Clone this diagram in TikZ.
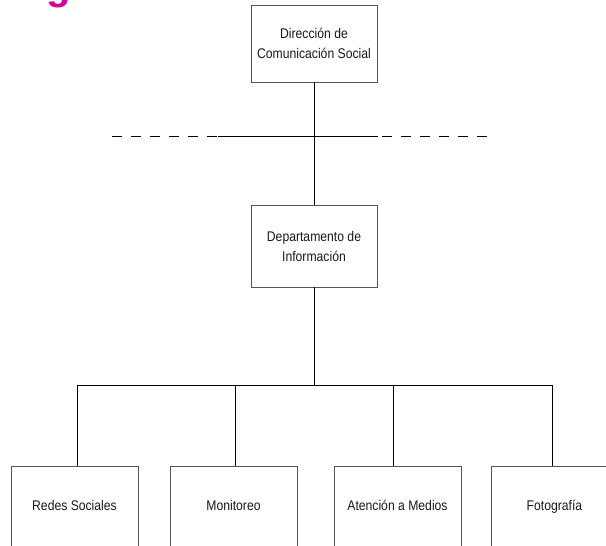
\documentclass[tikz,border=0pt]{standalone}
\usepackage{fontspec}
\setmainfont{Liberation Sans}[FakeStretch=0.87]
\newfontfamily\titlefont{Liberation Sans}
\definecolor{titlemagenta}{RGB}{214,0,150}
\definecolor{boxline}{RGB}{85,85,85}
\definecolor{boxtext}{RGB}{25,25,25}
\begin{document}
\begin{tikzpicture}[x=1pt,y=-1pt,
  orgbox/.style={draw=boxline, line width=0.9pt, fill=white,
    minimum width=126pt, minimum height=77pt, inner sep=0pt,
    align=center, text=boxtext, font=\fontsize{14}{20}\selectfont},
  unitbox/.style={orgbox, minimum width=127pt, minimum height=82pt,
    text height=10.5pt, text depth=3.5pt},
  link/.style={draw=black, line width=0.8pt},
  dashlink/.style={link, dash pattern=on 10pt off 9pt}]
\useasboundingbox (0,0) rectangle (606,546);
\clip (0,0) rectangle (606,546);

% page title, mostly above the visible area
\node[anchor=base east, inner sep=0pt, text=titlemagenta,
  font=\titlefont\bfseries\fontsize{40}{40}\selectfont] (title) at (167,-1) {Organigrama};

% boxes
\node[orgbox] (dir) at (314,43.5) {Dirección de\\Comunicación Social};
\node[orgbox, minimum height=82pt] (dep) at (314,246) {Departamento de\\Información};
\node[unitbox] (redes) at (74.5,507) {Redes Sociales};
\node[unitbox] (moni)  at (233.5,507) {Monitoreo};
\node[unitbox] (aten)  at (397.5,507) {Atención a Medios};
\node[unitbox] (foto)  at (554.5,507) {Fotografía};

% staff line crossing the main axis: dashed ends, solid middle
\coordinate (dl) at (112,136);
\coordinate (sl) at (218,136);
\coordinate (sr) at (378,136);
\coordinate (dr0) at (382,136);
\coordinate (dr) at (490,136);
\draw[dashlink] (dl) -- (sl);
\draw[link] (sl) -- (sr);
\draw[dashlink] (dr0) -- (dr);

% main axis
\draw[link] (dir.south) -- (dep.north);

% bus to the units
\coordinate (bus) at (314,385);
\coordinate (v1) at (77,385);
\coordinate (v2) at (235,385);
\coordinate (v3) at (393.5,385);
\coordinate (v4) at (552,385);
\draw[link] (dep.south) -- (bus);
\draw[link] (v1) -- (v4);
\draw[link] (v1) -- (v1 |- redes.north);
\draw[link] (v2) -- (v2 |- moni.north);
\draw[link] (v3) -- (v3 |- aten.north);
\draw[link] (v4) -- (v4 |- foto.north);
\end{tikzpicture}
\end{document}
